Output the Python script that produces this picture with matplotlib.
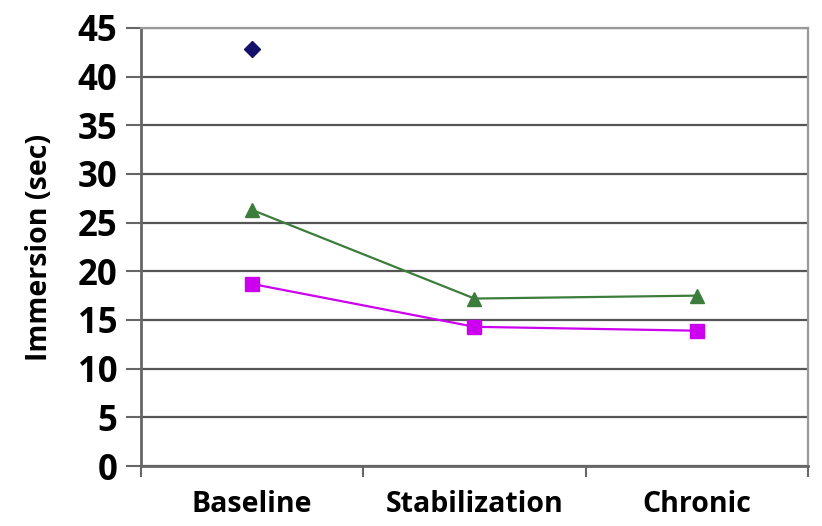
import matplotlib
matplotlib.use("Agg")
import matplotlib.pyplot as plt
import numpy as np

categories = ["Baseline", "Stabilization", "Chronic"]
series_diamond = [42.8, None, None]
series_triangle = [26.3, 17.2, 17.5]
series_square = [18.7, 14.3, 13.9]
yticks = [0, 5, 10, 15, 20, 25, 30, 35, 40, 45]

plt.rcParams['font.family'] = ['Open Sans', 'DejaVu Sans']
plt.rcParams['font.weight'] = 'bold'

fig = plt.figure(figsize=(8.22, 5.26), dpi=100)
ax = fig.add_axes([0.1715, 0.114, 0.8115, 0.833])

x = np.arange(len(categories))
yd = np.array([np.nan if v is None else v for v in series_diamond], dtype=float)
ax.plot(x, yd, marker='D', color='#15106a', markersize=8.5, linestyle='none', zorder=5)
ax.plot(x, series_triangle, marker='^', color='#3c7d3c', markersize=9.5, linewidth=1.6, zorder=4)
ax.plot(x, series_square, marker='s', color='#cc00ee', markersize=9.5, linewidth=1.6, zorder=4)

ax.set_xlim(-0.5, 2.5)
ax.set_ylim(0, 45)
ax.set_yticks(yticks)
ax.set_yticklabels([str(v) for v in yticks], fontsize=25, fontweight='bold')
ax.yaxis.grid(True, color='#555555', linewidth=1.6)
ax.set_axisbelow(True)

ax.set_xticks([-0.5, 0.5, 1.5, 2.5])
ax.set_xticklabels([])
ax.set_xticks(x, minor=True)
ax.set_xticklabels(categories, minor=True, fontsize=20.5, fontweight='bold')
ax.tick_params(axis='x', which='minor', length=0, pad=17)
ax.tick_params(axis='x', which='major', length=8, width=1.5, color='#666666', direction='out')
ax.tick_params(axis='y', length=11, width=1.5, color='#666666', direction='out', pad=6)

for s in ['left', 'bottom']:
    ax.spines[s].set_color('#666666')
    ax.spines[s].set_linewidth(2)
for s in ['right', 'top']:
    ax.spines[s].set_color('#999999')
    ax.spines[s].set_linewidth(1.6)

ax.set_ylabel("Immersion (sec)", fontsize=20.5, fontweight='bold', labelpad=17)

fig.savefig("out.png", dpi=100)
